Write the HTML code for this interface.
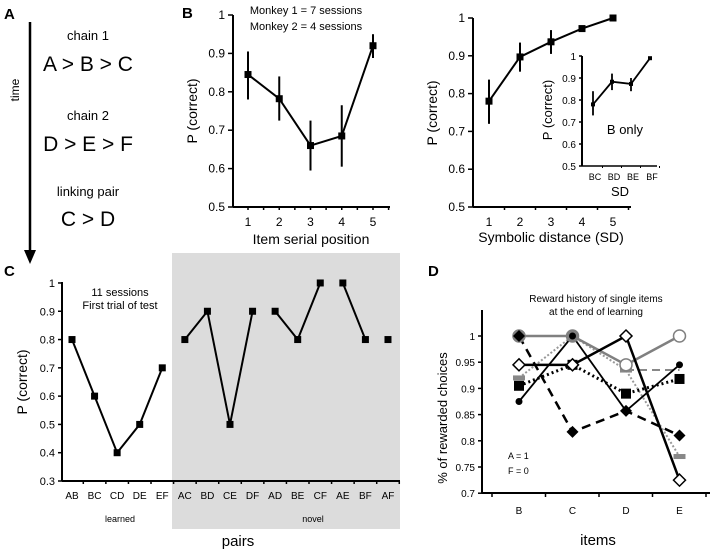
<!DOCTYPE html>
<html><head><meta charset="utf-8"><style>
body{margin:0;background:#fff}
svg{display:block;font-family:"Liberation Sans",Arial,sans-serif}
</style></head><body>
<svg id="fig" width="720" height="552" viewBox="0 0 720 552">
<g>
<text x="4" y="19" font-size="15" font-weight="bold">A</text>
<text transform="translate(19,90) rotate(-90)" font-size="12" text-anchor="middle">time</text>
<line x1="30" y1="22" x2="30" y2="252" stroke="#000" stroke-width="2.5"/>
<polygon points="24,250 36,250 30,264" fill="#000"/>
<text x="88" y="40" font-size="13" text-anchor="middle">chain 1</text>
<text x="88" y="71" font-size="21" text-anchor="middle">A &gt; B &gt; C</text>
<text x="88" y="120" font-size="13" text-anchor="middle">chain 2</text>
<text x="88" y="151" font-size="21" text-anchor="middle">D &gt; E &gt; F</text>
<text x="88" y="196" font-size="13" text-anchor="middle">linking pair</text>
<text x="88" y="226" font-size="21" text-anchor="middle">C &gt; D</text>
</g>
<text x="182" y="18" font-size="15" font-weight="bold">B</text>
<text x="4" y="276" font-size="15" font-weight="bold">C</text>
<text x="428" y="276" font-size="15" font-weight="bold">D</text>
<rect x="172" y="253" width="228" height="276" fill="#dcdcdc"/>
<g id="plots"></g>
</svg>
<script>
// Panel B1 data
const b1X=[1,2,3,4,5];
const b1Y=[0.845,0.782,0.66,0.685,0.92];
const b1Lo=[0.78,0.725,0.595,0.605,0.888];
const b1Hi=[0.905,0.84,0.725,0.765,0.95];
// Panel B2 data
const b2X=[1,2,3,4,5];
const b2Y=[0.78,0.897,0.937,0.972,1.0];
const b2Lo=[0.72,0.858,0.905,0.965,0.995];
const b2Hi=[0.837,0.935,0.968,0.978,1.0];
// Inset data
const inCats=["BC","BD","BE","BF"];
const inY=[0.78,0.883,0.873,0.99];
const inLo=[0.73,0.845,0.84,0.985];
const inHi=[0.84,0.92,0.9,0.995];
// Panel C data
const cCats=["AB","BC","CD","DE","EF","AC","BD","CE","DF","AD","BE","CF","AE","BF","AF"];
const cY=[0.8,0.6,0.4,0.5,0.7,0.8,0.9,0.5,0.9,0.9,0.8,1.0,1.0,0.8,0.8];
const cGroups=[[0,4],[5,8],[9,11],[12,13],[14,14]];
// Panel D data
const dCats=["B","C","D","E"];
const dGrayCircle=[1,1,0.945,1];
const dOpenDiamond=[0.945,0.945,1,0.725];
const dSmallCircle=[0.875,1,0.857,0.945];
const dDashDiamond=[1,0.817,0.857,0.81];
const dDotSquare=[0.905,0.945,0.89,0.918];
const dGrayDot=[0.92,1,0.935,0.77];
const dGrayDash=[null,null,0.935,0.935];

const NS="http://www.w3.org/2000/svg";
const root=document.getElementById('plots');
function mk(tag,at,parent){const e=document.createElementNS(NS,tag);for(const k in at)e.setAttribute(k,at[k]);(parent||root).appendChild(e);return e;}
function txt(x,y,s,size,anchor,rot){const t=mk('text',{x:x,y:y,'font-size':size,'text-anchor':anchor||'middle'});if(rot){t.setAttribute('transform','rotate(-90 '+x+' '+y+')');}t.textContent=s;return t;}
function lin(a,b,c,d,w,col,dash){const l=mk('line',{x1:a,y1:b,x2:c,y2:d,stroke:col||'#000','stroke-width':w||1.5});if(dash)l.setAttribute('stroke-dasharray',dash);return l;}
function sq(x,y,s,fill){const r=mk('rect',{x:x-s/2,y:y-s/2,width:s,height:s,fill:fill||'#000'});return r;}
function axisY(x,yTop,yBot,ticks,fmt,ys,fs,len){
  const a=lin(x,yTop,x,yBot,2);
  ticks.forEach(v=>{const y=ys(v);lin(x-len,y,x,y,1.5);const t=txt(x-len-3,y+4,fmt(v),fs,'end');});
}
// ---- B1
{
 const xs=v=>248+(v-1)*31.25, ys=v=>207-(v-0.5)*384;
 axisY(233,15,207,[0.5,0.6,0.7,0.8,0.9,1],v=>v===1?'1':v.toFixed(1),ys,12,5);
 const ax=lin(233,207,390,207,2);
 b1X.forEach(v=>{lin(xs(v)+15.6,207,xs(v)+15.6,210,1.5);lin(xs(v),207,xs(v),210,1.5);const t=txt(xs(v),226,String(v),12);});
 let p=b1X.map((v,i)=>xs(v)+','+ys(b1Y[i])).join(' ');
 const pl=mk('polyline',{points:p,fill:'none',stroke:'#000','stroke-width':2});
 b1X.forEach((v,i)=>{const e=lin(xs(v),ys(b1Lo[i]),xs(v),ys(b1Hi[i]),2);const m=sq(xs(v),ys(b1Y[i]),7);});
 const t1=txt(311,244,'Item serial position',14);
 const t2=txt(197,111,'P (correct)',14,'middle',true);
 const t3=txt(306,14,'Monkey 1 = 7 sessions',11);
 const t4=txt(306,30,'Monkey 2 = 4 sessions',11);
}
// ---- B2
{
 const xs=v=>489+(v-1)*31, ys=v=>207-(v-0.5)*378;
 axisY(473,18,207,[0.5,0.6,0.7,0.8,0.9,1],v=>v===1?'1':v.toFixed(1),ys,12,5);
 const ax=lin(473,207,631,207,2);
 b2X.forEach(v=>{lin(xs(v)+15.5,207,xs(v)+15.5,210,1.5);const t=txt(xs(v),226,String(v),12);});
 const pl=mk('polyline',{points:b2X.map((v,i)=>xs(v)+','+ys(b2Y[i])).join(' '),fill:'none',stroke:'#000','stroke-width':2});
 b2X.forEach((v,i)=>{const e=lin(xs(v),ys(b2Lo[i]),xs(v),ys(b2Hi[i]),2);const m=sq(xs(v),ys(b2Y[i]),7);});
 const t1=txt(551,242,'Symbolic distance (SD)',14);
 const t2=txt(437,113,'P (correct)',14,'middle',true);
}
// ---- Inset
{
 const xs=i=>593+i*19, ys=v=>166-(v-0.5)*220;
 axisY(582,56,166,[0.5,0.6,0.7,0.8,0.9,1],v=>v===1?'1':v.toFixed(1),ys,10,3);
 const ax=lin(582,166,657,166,1.5);
 inCats.forEach((c,i)=>{lin(xs(i)+9.5,166,xs(i)+9.5,168,1);const t=txt(xs(i)+2,180,c,9);});
 const pl=mk('polyline',{points:inCats.map((c,i)=>xs(i)+','+ys(inY[i])).join(' '),fill:'none',stroke:'#000','stroke-width':1.8});
 inCats.forEach((c,i)=>{const e=lin(xs(i),ys(inLo[i]),xs(i),ys(inHi[i]),1.8);const m=sq(xs(i),ys(inY[i]),4);});
 const t1=txt(620,196,'SD',13);
 const t2=txt(552,110,'P (correct)',13,'middle',true);
 const t3=txt(625,134,'B only',13);
}
// ---- C
{
 const xs=i=>72+i*22.57, ys=v=>481-(v-0.3)*282.9;
 axisY(62,282,481,[0.3,0.4,0.5,0.6,0.7,0.8,0.9,1],v=>v===1?'1':v.toFixed(1),ys,11,4);
 const ax=lin(62,481,400,481,2);
 cCats.forEach((c,i)=>{lin(xs(i)+11.3,481,xs(i)+11.3,484,1.5);const t=txt(xs(i),499,c,10);});
 cGroups.forEach(g=>{const pts=[];for(let i=g[0];i<=g[1];i++)pts.push(xs(i)+','+ys(cY[i]));const pl=mk('polyline',{points:pts.join(' '),fill:'none',stroke:'#000','stroke-width':2});});
 cCats.forEach((c,i)=>{const m=sq(xs(i),ys(cY[i]),7);});
 const t1=txt(120,296,'11 sessions',11);
 const t2=txt(120,309,'First trial of test',11);
 const t3=txt(120,522,'learned',9);
 const t4=txt(313,522,'novel',9);
 const t5=txt(238,546,'pairs',15);
 const t6=txt(27,382,'P (correct)',14,'middle',true);
}
// ---- D
{
 const xs=i=>519+i*53.5, ys=v=>336+(1-v)*524;
 axisY(482,310,493,[0.7,0.75,0.8,0.85,0.9,0.95,1],v=>v===1?'1':String(v),ys,10,4);
 const ax=lin(482,493,710,493,2);
 [0,1,2,3,4].forEach(i=>lin(xs(i)-27,493,xs(i)-27,497,1.5));
 dCats.forEach((c,i)=>{const t=txt(xs(i),514,c,10);});
 function series(arr,col,w,dash,name){const pts=[];arr.forEach((v,i)=>{if(v!==null)pts.push(xs(i)+','+ys(v));});const pl=mk('polyline',{points:pts.join(' '),fill:'none',stroke:col,'stroke-width':w});if(dash)pl.setAttribute('stroke-dasharray',dash);}
 series(dGrayDash,'#888',2,'8,5','gray-dashed-line');
 series(dGrayDot,'#999',2,'2,2','gray-dotted-line');
 series(dGrayCircle,'#808080',2.5,null,'gray-circle-line');
 series(dDashDiamond,'#000',2.5,'9,6','dashed-diamond-line');
 series(dDotSquare,'#000',3,'2,3','dotted-square-line');
 series(dSmallCircle,'#000',1.8,null,'small-circle-line');
 series(dOpenDiamond,'#000',2.5,null,'open-diamond-line');
 dGrayDot.forEach((v,i)=>{const r=mk('rect',{x:xs(i)-6,y:ys(v)-2.5,width:12,height:5,fill:'#888'});});
 dGrayCircle.forEach((v,i)=>{const c=mk('circle',{cx:xs(i),cy:ys(v),r:6,fill:(i<2?'#808080':'#fff'),stroke:'#808080','stroke-width':1.5});});
 dDashDiamond.forEach((v,i)=>{const x=xs(i),y=ys(v);const p=mk('polygon',{points:`${x},${y-6} ${x+6},${y} ${x},${y+6} ${x-6},${y}`,fill:'#000'});});
 dDotSquare.forEach((v,i)=>{const m=sq(xs(i),ys(v),10);});
 dSmallCircle.forEach((v,i)=>{const c=mk('circle',{cx:xs(i),cy:ys(v),r:3.5,fill:'#000'});});
 dOpenDiamond.forEach((v,i)=>{const x=xs(i),y=ys(v);const p=mk('polygon',{points:`${x},${y-6} ${x+6},${y} ${x},${y+6} ${x-6},${y}`,fill:'#fff',stroke:'#000','stroke-width':1.5});});
 const t1=txt(596,302,'Reward history of single items',10);
 const t2=txt(596,315,'at the end of learning',10);
 const t3=txt(508,459,'A = 1',9,'start');
 const t4=txt(508,474,'F = 0',9,'start');
 const t5=txt(598,545,'items',15);
 const t6=txt(447,418,'% of rewarded choices',13,'middle',true);
}
</script>
</body></html>
